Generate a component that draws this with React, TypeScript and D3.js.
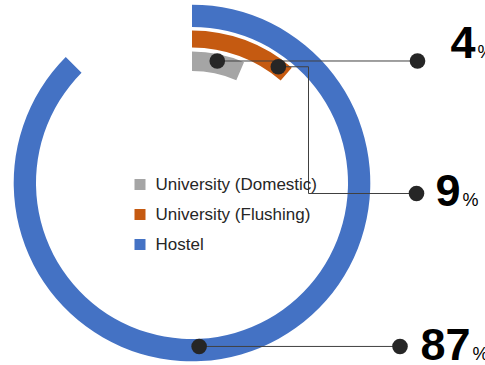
import React from "react";
import * as d3 from "d3";

// ---- data ----
const categories = ["University (Domestic)", "University (Flushing)", "Hostel"];
const values = [4, 9, 87];
const valueLabels = ["4", "9", "87"];
const colors = ["#A5A5A5", "#C55A11", "#4472C4"];

// ---- layout (not data) ----
const W = 485;
const H = 365;
const CX = 192;
const CY = 183;
const ringInner = [112, 135.5, 156];
const ringOuter = [131.5, 152.5, 178.3];
const leaderAngles = [11.7, 36.6, 177.5];
const leaderRadii = [124.6, 144.8, 163.6];
const leaderElbowX: (number | null)[] = [null, 308.5, null];
const leaderEndX = [417.5, 416.5, 400];
const leaderEndY: (number | null)[] = [null, 193.5, null];
const labelX = [450.5, 435.5, 420.5];
const labelY = [58, 206, 360];
const legendX = 134.5;
const legendY = [190, 220, 250];

export default function App() {
  const angle = d3.scaleLinear().domain([0, 100]).range([9.24, 360.6]);
  const rad = (deg: number) => (deg * Math.PI) / 180;
  const arcGen = d3.arc<any>();

  const arcs = values.map((v, i) =>
    arcGen({
      innerRadius: ringInner[i],
      outerRadius: ringOuter[i],
      startAngle: 0,
      endAngle: rad(angle(v)),
    }) as string
  );

  const anchors = values.map((_, i) => {
    const a = rad(leaderAngles[i]);
    return {
      x: CX + leaderRadii[i] * Math.sin(a),
      y: CY - leaderRadii[i] * Math.cos(a),
    };
  });

  const leaderPaths = anchors.map((p, i) => {
    const ey = leaderEndY[i] ?? p.y;
    const path = d3.path();
    path.moveTo(p.x, p.y);
    if (leaderElbowX[i] != null) {
      path.lineTo(leaderElbowX[i] as number, p.y);
      path.lineTo(leaderElbowX[i] as number, ey);
    }
    path.lineTo(leaderEndX[i], ey);
    return { d: path.toString(), ex: leaderEndX[i], ey };
  });

  return (
    <svg
      width={W}
      height={H}
      style={{ position: "absolute", left: 0, top: 0, background: "#fff" }}
      fontFamily="'Liberation Sans', Arial, sans-serif"
    >
      <rect width={W} height={H} fill="#fff" />
      <g transform={`translate(${CX},${CY})`}>
        {arcs.map((d, i) => (
          <path key={i} d={d} fill={colors[i]} />
        ))}
      </g>
      {leaderPaths.map((l, i) => (
        <path key={i} d={l.d} fill="none" stroke="#404040" strokeWidth={1} />
      ))}
      {anchors.map((p, i) => (
        <circle key={"a" + i} cx={p.x} cy={p.y} r={7.8} fill="#262626" />
      ))}
      {leaderPaths.map((l, i) => (
        <circle key={"e" + i} cx={l.ex} cy={l.ey} r={7.8} fill="#262626" />
      ))}
      {valueLabels.map((t, i) => (
        <text key={i} x={labelX[i]} y={labelY[i]} fill="#000">
          <tspan fontSize={45} fontWeight="bold">{t}</tspan>
          <tspan fontSize={18} dx={2}>%</tspan>
        </text>
      ))}
      {categories.map((c, i) => (
        <g key={c}>
          <rect x={legendX} y={legendY[i] - 11} width={11} height={11} fill={colors[i]} />
          <text x={155.5} y={legendY[i]} fontSize={17} fill="#262626">
            {c}
          </text>
        </g>
      ))}
    </svg>
  );
}
